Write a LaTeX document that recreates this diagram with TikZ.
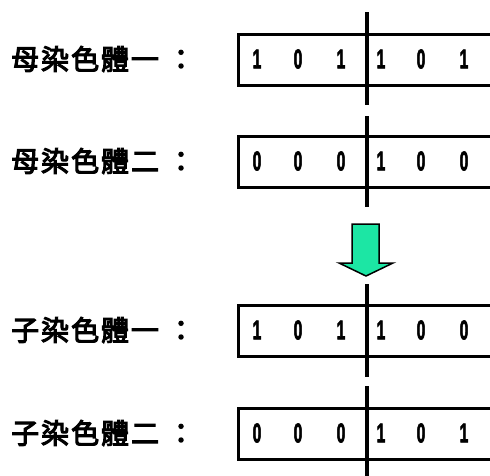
\documentclass[tikz,border=0pt]{standalone}
\usepackage{fontspec}
\newfontfamily\cjk[FakeBold=4, LetterSpace=7]{Noto Sans CJK TC}
\newfontfamily\genefont[FakeBold=3]{Liberation Sans}
\definecolor{mInk}{HTML}{000000}
\definecolor{mArrow}{HTML}{1CE6A4}
\usepackage{tikz}
\usetikzlibrary{positioning,arrows.meta,calc}

\tikzset{
  chrom/.style={draw=mInk, line width=3pt, minimum width=290pt, minimum height=51pt,
    inner sep=0pt, anchor=north west},
  gene/.style={inner sep=0pt, font=\fontsize{27}{27}\genefont\bfseries},
  tag/.style={anchor=west, inner sep=0pt, font=\fontsize{28}{28}\cjk}
}

\begin{document}
\begin{tikzpicture}[x=1pt, y=-1pt]
\useasboundingbox (0,0) rectangle (490,475);
\clip (0,0) rectangle (490,475);

% label / box top / cut line ends / genes
\foreach \i/\name/\top/\ca/\cb/\genes in {
    1/母染色體一/33/12/105/{1,0,1,1,0,1},
    2/母染色體二/135/116/207/{0,0,0,1,0,0},
    3/子染色體一/304/284/377/{1,0,1,1,0,0},
    4/子染色體二/407/386/480/{0,0,0,1,0,1}} {
  \node[tag] (lab\i) at (11,\top+26) {\name\hspace{8pt}：};
  \node[chrom] (chr\i) at (237,\top) {};
  \draw[mInk, line width=3.5pt] (367,\ca) -- (367,\cb);
  \foreach \g [count=\k] in \genes {
    \pgfmathsetmacro{\gx}{{257,298,341,381,421,464}[\k-1]}
    \node[gene] (g\i\k) at (\gx,\top+26) {\scalebox{0.58}[1]{\g}};
  }
}

% down arrow between parents and children
\filldraw[fill=mArrow, draw=mInk, line width=1.5pt]
  (352,224) -- (379,224) -- (379,263) -- (393,263) -- (366,276)
  -- (339,263) -- (352,263) -- cycle;
\end{tikzpicture}
\end{document}
